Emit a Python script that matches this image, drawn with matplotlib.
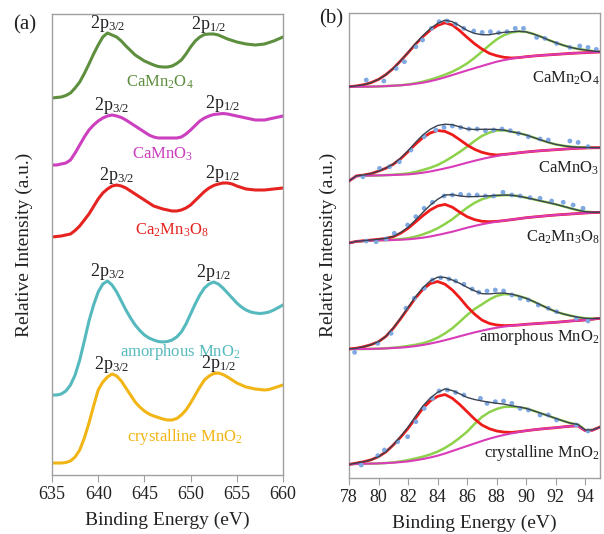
import numpy as np
import matplotlib
matplotlib.use('Agg')
import matplotlib.pyplot as plt

plt.rcParams['font.family'] = ['Liberation Serif', 'DejaVu Serif']
plt.rcParams['mathtext.fontset'] = 'custom'
plt.rcParams['mathtext.rm'] = 'Liberation Serif'
plt.rcParams['mathtext.it'] = 'Liberation Serif:italic'
plt.rcParams['mathtext.bf'] = 'Liberation Serif:bold'

# ---- (a) Mn 2p spectra, stacked (arbitrary units), 0.5 eV steps ----
energy_a = np.arange(635, 660.5, 0.5)
mn2p = {
    'CaMn2O4': [379, 379.5, 380, 381.5, 384, 389, 395, 403.5, 413, 423, 432, 440, 444, 442,
                440, 436, 431, 426.5, 422, 419, 416, 414, 412, 410.5, 410, 410, 411, 413.5,
                417, 423, 430, 436, 440, 442.5, 443, 443, 442, 440, 438, 436.5, 435, 434,
                433, 432.5, 432, 432.5, 433, 434.5, 436, 438, 440],
    'CaMnO3': [312, 312, 313, 314, 317, 324, 332, 340, 347, 352, 356, 359, 361, 362,
               361, 359.5, 357, 354, 351, 348, 345, 342, 340, 339, 339, 339, 339, 339,
               340, 343, 347, 351.5, 356, 359, 361, 362.5, 363, 363.5, 363, 362, 361, 360,
               359, 358, 357, 357, 357, 358, 359, 360, 361],
    'Ca2Mn3O8': [240, 240.5, 241, 242, 243, 246.5, 251, 257, 263, 270.5, 278, 284, 288, 291,
                 292, 291, 289, 286, 283, 280, 277, 274, 271, 269.5, 268, 267, 266, 266,
                 267, 269, 272, 276.5, 281, 285.5, 289, 291.5, 293, 294, 294, 293, 291, 289.5,
                 288, 287.5, 287, 287, 287, 287.5, 288, 288.5, 289],
    'amorphous': [82, 82, 83, 86, 92, 102, 117, 136, 156, 172, 185, 193, 196, 192,
                  185, 176, 167, 159, 152, 146.5, 142, 139, 137, 135.5, 135, 135.5, 137, 140,
                  145, 153, 163, 173, 182, 189, 193, 195, 193, 189, 184, 179, 174, 170,
                  167, 165, 164, 163.5, 164, 165, 167, 169.5, 172],
    'crystalline': [14, 14, 14, 14.5, 16, 20, 27, 39, 54, 71, 87, 95, 100, 103,
                    101, 96, 89, 82, 75, 70, 66, 63, 61, 59.5, 58, 57, 57, 58.5,
                    62, 67, 74, 82, 90, 97, 101, 103.5, 104, 102.5, 100, 97, 94, 92,
                    90, 89, 88, 87.5, 87, 87.5, 89, 90.5, 92],
}
names_a = [r'CaMn$_2$O$_4$', r'CaMnO$_3$', r'Ca$_2$Mn$_3$O$_8$',
           r'amorphous MnO$_2$', r'crystalline MnO$_2$']
colors_a = ['#5e8f3e', '#cc3fbf', '#e52421', '#55b9bd', '#f2b516']
name_pos_a = [(646.7, 395), (647.0, 323), (648.0, 247), (648.9, 125), (649.4, 40)]

# ---- (b) fits: background, two components (height above bg), raw points ----
energy_b = np.arange(78, 95.5, 0.5)
bg_b = [
    [0, 0, 0, 0.1, 0.3, 0.6, 1, 1.4, 2, 2.9, 4, 5.5, 7.3, 9.4, 11.7, 14, 16.3, 18.5,
     20.7, 22.9, 25, 26.6, 28, 29.1, 30, 30.7, 31.3, 31.8, 32.3, 32.8, 33.3, 33.7, 34, 34.4, 34.7],
    [-5.3, -0.5, 0, 0.1, 0.3, 0.5, 0.7, 1, 1.3, 2, 3, 4.2, 5.7, 7.3, 9, 11, 13, 14.9,
     16.7, 18.3, 19.7, 21, 22, 22.9, 23.7, 24.4, 25, 25.5, 26, 26.5, 27, 27.4, 27.7, 27.9, 28],
    [-2, -0.5, 0, 0.4, 0.7, 0.8, 1, 1.3, 1.7, 2.4, 3.3, 4.5, 6, 7.6, 9.3, 11.3, 13.3, 15.1,
     16.7, 18.1, 19.3, 20.4, 21.3, 22.3, 23.3, 24, 24.7, 25.4, 26, 26.5, 27, 27.5, 28, 28.4, 28.7],
    [0, 0, 0, 0.1, 0.3, 0.6, 1, 1.4, 2, 2.9, 4, 5.4, 7, 8.8, 10.7, 12.7, 14.7, 16.6,
     18.3, 19.9, 21.3, 22.4, 23.3, 24, 24.7, 25.2, 25.7, 26.2, 26.7, 27.3, 28, 28.5, 29, 29.8, 30.7],
    [-0.7, -0.2, 0, 0.1, 0.3, 0.6, 1, 1.6, 2.3, 3.4, 4.7, 6.2, 8, 10.2, 12.7, 15.2, 17.7, 20.2,
     22.7, 25, 27, 28.8, 30.3, 31.7, 33, 33.9, 34.7, 35.4, 36, 36.8, 37.5, 37.8, 33, 33.5, 36.7],
]
peak1_b = [
    [0, 0.8, 2, 4, 7, 11.5, 17.3, 24.5, 32, 39.5, 46, 51, 54, 54.5, 50, 42, 33, 24.5,
     17, 10.5, 6, 2.8, 0.7, 0, 0, 0, 0, 0, 0, 0, 0, 0, 0, 0, 0],
    [0, 0.3, 0.7, 2, 4.3, 7, 10.7, 16, 22.7, 29.5, 35, 38.5, 39.5, 37, 32, 25, 17.7, 11.5,
     6.7, 3.3, 1, 0.3, 0, 0, 0, 0, 0, 0, 0, 0, 0, 0, 0, 0, 0],
    [0, 0.1, 0.3, 0.6, 1, 1.8, 3.3, 6.5, 11, 16.5, 22, 26.5, 29, 29, 24.5, 17.5, 11, 6.3,
     3, 1.2, 0.3, 0, 0, 0, 0, 0, 0, 0, 0, 0, 0, 0, 0, 0, 0],
    [0, 0.8, 2.3, 4.3, 7, 12, 19.7, 29, 38.7, 48, 55.5, 60, 60.5, 56, 48.3, 38.5, 27.7, 18.3,
     10.7, 5.7, 2.7, 1, 0.3, 0, 0, 0, 0, 0, 0, 0, 0, 0, 0, 0, 0],
    [0, 0.8, 2, 3.8, 6.7, 11.2, 17.7, 25, 33, 42, 50.7, 56.5, 59.3, 59, 52.7, 44, 34.3, 24.5,
     16, 10, 5.7, 2.8, 1, 0.3, 0, 0, 0, 0, 0, 0, 0, 0, 0, 0, 0],
]
peak2_b = [
    [0, 0, 0, 0, 0, 0, 0, 0.1, 0.3, 0.6, 1, 1.5, 2, 2.6, 3.3, 4.8, 7, 10.3,
     14.3, 18.5, 22.3, 25, 26.2, 26.3, 24.8, 22, 18.7, 15, 11.7, 8.7, 6, 4.1, 2.7, 1.3, 0.3],
    [0, 0, 0, 0, 0, 0.1, 0.3, 0.6, 1, 1.7, 2.7, 3.7, 5, 7.2, 10, 12.8, 16, 19.8,
     23, 24.8, 25.5, 24.3, 22, 19.7, 17, 13.8, 10.7, 7.8, 5.3, 3.5, 2, 1.1, 0.5, 0.2, 0],
    [0, 0, 0, 0, 0, 0.1, 0.3, 0.6, 1, 2, 3.3, 4.8, 6.7, 9.4, 12.5, 16.3, 20, 23,
     25, 25.9, 26, 25.5, 24.5, 22.5, 20, 17.7, 15.3, 13, 10.7, 8.2, 5.7, 3.3, 1.3, 0.4, 0],
    [0, 0, 0, 0, 0, 0.1, 0.3, 0.6, 1, 1.3, 1.7, 2.7, 4.3, 6.8, 10, 14.5, 19.3, 23.3,
     26.3, 29.5, 31.8, 32.5, 31.3, 29, 26, 22.3, 18.3, 14.3, 10.7, 7.8, 5.3, 3.3, 1.7, 0.6, 0],
    [0, 0, 0, 0, 0, 0.1, 0.3, 0.7, 1.3, 1.8, 2.3, 3, 4, 5.6, 7.7, 10.7, 14.3, 19.5,
     24, 26.5, 27.7, 28, 26.7, 24.8, 22.3, 19, 15.7, 12.5, 9.3, 6, 3, 1.5, 0.7, 0.3, 0],
]
dots_e = [
    [79.17, 80.36, 81.19, 81.75, 82.53, 82.98, 83.58, 84.1, 84.66, 85.22, 85.78, 86.45, 87.02,
     87.58, 88.14, 88.7, 89.26, 89.82, 90.71, 91.27, 92.06, 92.96, 93.63, 94.19, 94.75],
    [78.94, 80.07, 80.74, 81.41, 82.19, 83.09, 83.88, 84.44, 85.0, 85.56, 86.12, 86.68, 87.24,
     87.8, 88.36, 88.92, 89.48, 90.15, 90.94, 91.5, 92.96, 93.52, 94.19],
    [79.17, 79.84, 80.51, 81.07, 81.97, 82.53, 83.09, 83.65, 84.44, 85.0, 85.56, 86.12, 86.68,
     87.24, 87.8, 88.43, 89.03, 89.59, 90.26, 90.94, 91.72, 92.51, 93.18, 93.85],
    [78.38, 79.95, 80.85, 81.86, 82.42, 83.09, 83.65, 84.21, 84.77, 85.22, 85.78, 86.34, 86.79,
     87.35, 87.91, 88.47, 89.03, 89.59, 90.15, 90.82, 91.5, 92.06, 93.4, 94.19],
    [78.83, 79.95, 80.4, 81.3, 81.97, 82.53, 83.09, 83.65, 84.1, 84.66, 85.22, 85.78, 86.9,
     87.35, 87.91, 88.47, 89.03, 89.59, 90.15, 90.94, 91.5, 92.06, 93.4, 94.19],
]
dots_i = [
    [6.7, 5.7, 18.3, 25, 40, 46.7, 58.3, 65, 65.7, 62.7, 58.3, 55.7, 54.3,
     55, 54, 55, 58.3, 58.3, 49.3, 48.3, 43.3, 39.3, 40.7, 39.3, 37.3],
    [-1, 7.3, 9, 14, 25.7, 39, 45.7, 48.3, 49.7, 48.3, 46.7, 46.7, 45,
     45.7, 46.7, 45, 42.3, 39, 36.7, 35.7, 34.7, 33.3, 29],
    [0, -0.7, 2, 7.7, 16, 24.3, 32.7, 38.7, 45, 46, 46.7, 46, 46,
     45, 45, 48.7, 46, 45, 43.3, 42.7, 40, 38.7, 36, 32.7],
    [-3.3, 5.7, 15.7, 40.7, 50.7, 60.7, 69, 71.3, 70, 68, 64.7, 60, 56.7,
     58, 59, 58, 54, 50.7, 49, 44, 40.7, 37.3, 30.7, 28],
    [-1.3, 8, 13.7, 22, 27, 42, 55.3, 65.3, 72.7, 73.7, 71.3, 68.7, 65.3,
     60.3, 62, 62.7, 60.3, 55.3, 53.7, 48.7, 48.7, 43.7, 38.7, 32.7],
]
offsets_b = [391.3, 302.3, 237, 129, 14.3]
name_y_b = [400, 310, 241, 141, 25]

fig = plt.figure(figsize=(6.04, 5.34), dpi=100)
ax1 = fig.add_axes([52 / 604, 59 / 534, 231 / 604, 461 / 534])
ax2 = fig.add_axes([349 / 604, 56 / 534, 251 / 604, 465.3 / 534])

# left panel
for (key, vals), name, col, pos in zip(mn2p.items(), names_a, colors_a, name_pos_a):
    vals = np.array(vals)
    ax1.plot(energy_a, vals, color=col, lw=2.2)
    for lo, hi, lab in [(638, 645, r'2p$_{3/2}$'), (649, 656, r'2p$_{1/2}$')]:
        m = (energy_a >= lo) & (energy_a <= hi)
        k = np.argmax(vals[m])
        ax1.text(energy_a[m][k], vals[m][k] - 1, lab, ha='center', va='bottom',
                 fontsize=13, color='#222222')
    ax1.text(pos[0], pos[1], name, ha='center', va='center', fontsize=12, color=col)

ax1.set_xlim(635, 660)
ax1.set_ylim(2, 463)
ax1.set_xticks([635, 640, 645, 650, 655, 660])

# right panel
for i in range(5):
    off = offsets_b[i]
    bg = np.array(bg_b[i])
    p1 = np.array(peak1_b[i])
    p2 = np.array(peak2_b[i])
    ax2.plot(energy_b, off + bg + p2, color='#8ed14b', lw=1.8, zorder=2)
    ax2.plot(energy_b, off + bg + p1, color='#ee1b1b', lw=2.0, zorder=3)
    ax2.plot(energy_b, off + bg, color='#d83cb8', lw=1.5, zorder=4)
    ax2.scatter(dots_e[i], off + np.array(dots_i[i]), s=12, color='#80a8e2',
                edgecolors='none', zorder=5)
    ax2.plot(energy_b, off + bg + p1 + p2, color='#3a4350', lw=1.0, zorder=6)
    ax2.text(94.97, name_y_b[i], names_a[i], ha='right', va='center', fontsize=12,
             color='#222222', zorder=7)

ax2.set_xlim(78, 95)
ax2.set_ylim(0, 465.3)
ax2.set_xticks(range(78, 95, 2))

for ax in (ax1, ax2):
    ax.set_yticks([])
    for s in ax.spines.values():
        s.set_color('#a0a0a0')
        s.set_linewidth(1.0)
    ax.tick_params(axis='x', direction='out', length=5, color='#a0a0a0',
                   labelsize=13, labelcolor='#222222', pad=3)
    ax.set_xlabel('Binding Energy (eV)', fontsize=14, color='#222222', labelpad=6)
    ax.set_ylabel('Relative Intensity (a.u.)', fontsize=14, color='#222222')

ax1.yaxis.set_label_coords(-0.083, 0.5)
ax2.yaxis.set_label_coords(-0.048, 0.5)

fig.text(25 / 604, 1 - 25 / 534, '(a)', fontsize=15, ha='center', va='center', color='#222222')
fig.text(331 / 604, 1 - 19 / 534, '(b)', fontsize=15, ha='center', va='center', color='#222222')

fig.savefig('out.png', dpi=100)
